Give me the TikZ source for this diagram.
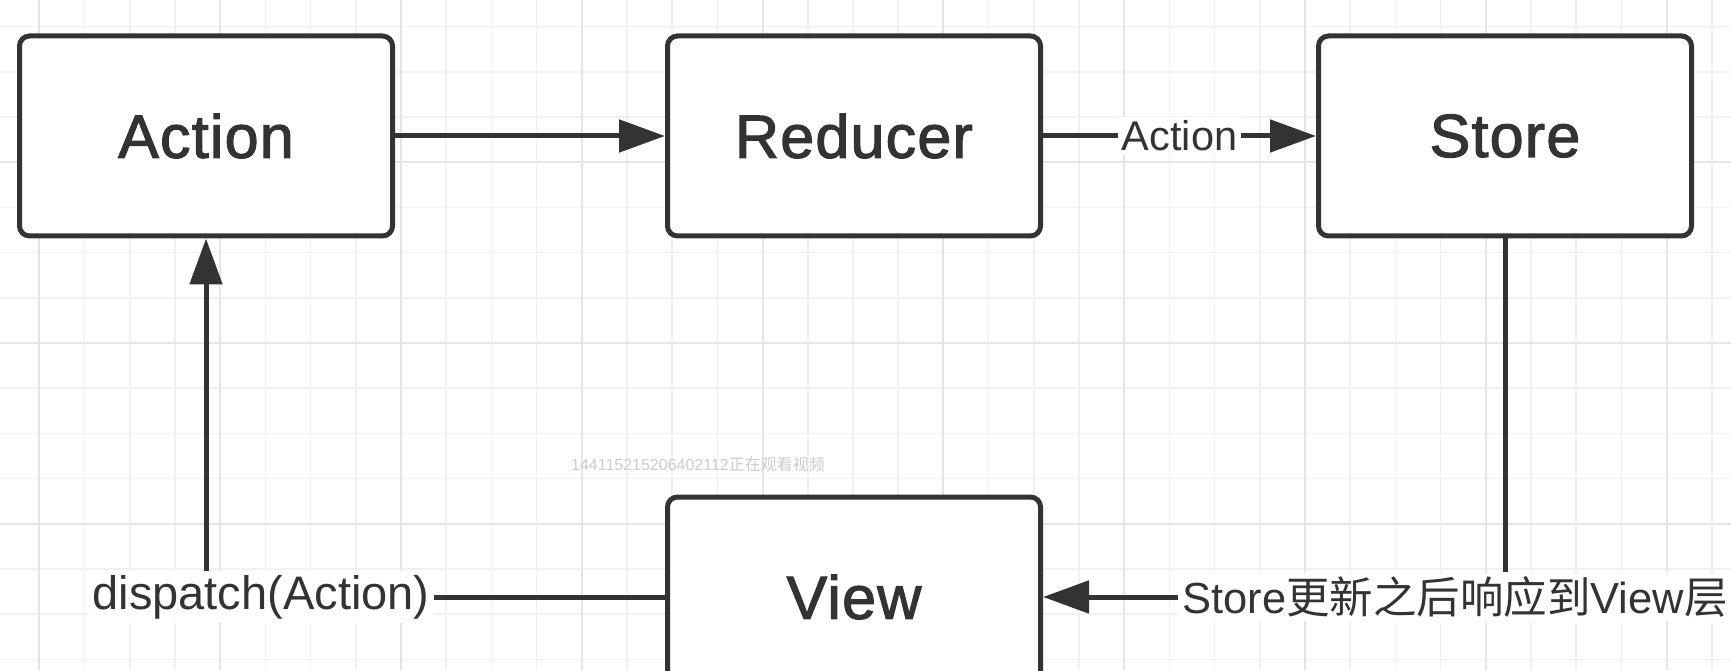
\documentclass[tikz,border=0pt]{standalone}
\usepackage{fontspec}
\setmainfont{Liberation Sans}
\newfontfamily\cjk{Noto Sans CJK SC}
\newfontfamily\titlefont{Liberation Sans}[FakeBold=1.9, LetterSpace=2]
\usetikzlibrary{arrows.meta}

\definecolor{gridminor}{HTML}{F1F1F1}
\definecolor{gridmajor}{HTML}{E5E5E5}
\definecolor{ink}{HTML}{333333}

\begin{document}
\begin{tikzpicture}[x=1pt, y=1pt,
  box/.style={draw=ink, line width=5pt, rounded corners=10pt, fill=white,
    minimum width=373pt, minimum height=200pt, inner sep=0pt, text=ink,
    font=\titlefont\fontsize{61}{63}\selectfont},
  edgelbl/.style={fill=white, inner sep=4pt, text=ink},
  link/.style={draw=ink, line width=5pt},
  flow/.style={link, -{Triangle[length=46pt, width=32pt]}}]

% canvas
\clip (0, 0) rectangle (1731, 670);
\fill[white] (0, 0) rectangle (1731, 670);

% draw grid
\foreach \k in {0,...,37} \draw[gridminor, line width=1.5pt] ({39.4 + 45.2*\k}, 0) -- ++(0, 670);
\foreach \k in {0,...,14} \draw[gridminor, line width=1.5pt] (0, {10.6 + 45.2*\k}) -- ++(1731, 0);
\foreach \k in {0,...,9} \draw[gridmajor, line width=2pt] ({39.4 + 180.8*\k}, 0) -- ++(0, 670);
\foreach \k in {0,...,2} \draw[gridmajor, line width=2pt] (0, {146.2 + 180.8*\k}) -- ++(1731, 0);

% draw boxes
\node[box] (action) at (206, 534) {Action};
\node[box] (reducer) at (854, 534) {Reducer};
\node[box] (store) at (1505, 534) {Store};
\node[box] (view) at (854, 73) {View};

% draw bottom labels
\node[edgelbl, font=\fontsize{47}{49}\selectfont] (dispatch) at (261, 73) {dispatch(Action)};
\node[edgelbl, font=\fontsize{43.5}{46}\selectfont] (update) at (1455, 73) {Store{\cjk 更新之后响应到}View{\cjk 层}};

% draw connectors
\draw[flow] (action) -- (reducer);
\draw[flow] (reducer) -- node[edgelbl, font=\fontsize{41.5}{44}\selectfont] (passed) {Action} (store);
\draw[link] (view.west) -- (dispatch.east);
\draw[flow] (dispatch.north -| action.south) -- (action.south);
\draw[link] (store.south) -- (update.north -| store.south);
\draw[flow] (update.west) -- (view.east);

% draw viewer note
\node[text=gray!40, font=\fontsize{16}{18}\selectfont] (viewer) at (698, 206) {144115215206402112{\cjk 正在观看视频}};

\end{tikzpicture}
\end{document}
